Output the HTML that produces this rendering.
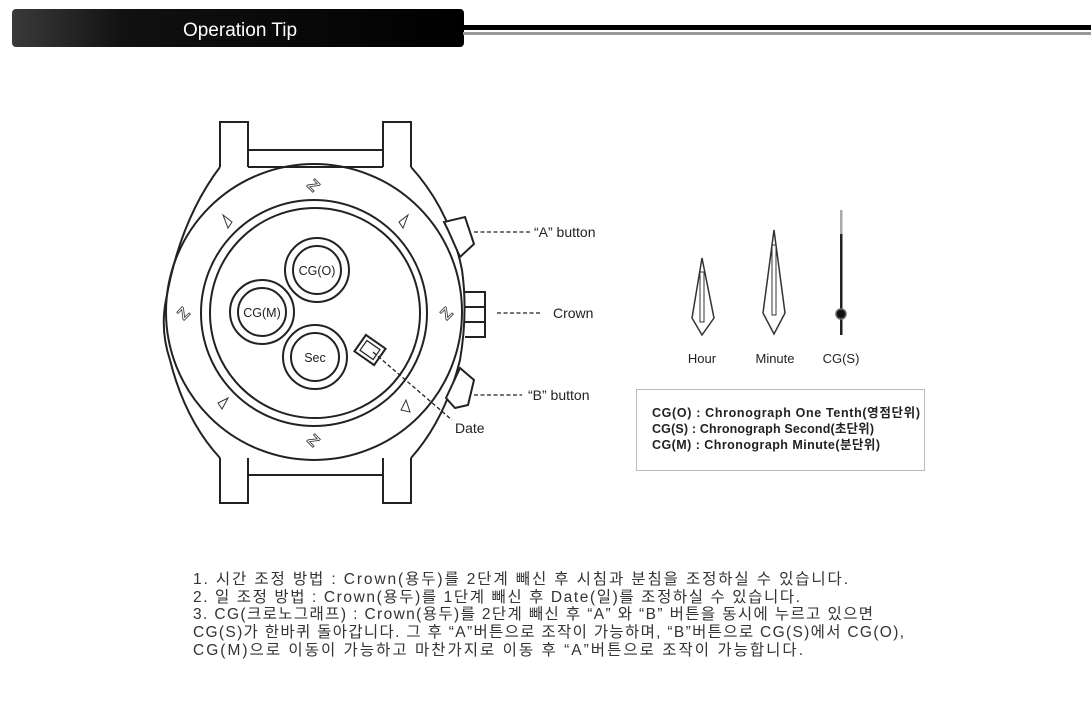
<!DOCTYPE html>
<html><head><meta charset="utf-8"><style>
html,body{margin:0;padding:0;background:#fff;width:1091px;height:703px;overflow:hidden}
svg{display:block}
text{font-family:"Liberation Sans","Noto Sans CJK KR",sans-serif}
</style></head><body>
<svg width="1091" height="703" viewBox="0 0 1091 703" xmlns="http://www.w3.org/2000/svg">
<defs><linearGradient id="hg" x1="0" x2="1"><stop offset="0" stop-color="#3a3a3a"/><stop offset="0.25" stop-color="#111"/><stop offset="1" stop-color="#000"/></linearGradient></defs>
<rect x="12" y="9" width="452" height="38" rx="4" fill="url(#hg)"/>
<text x="240" y="36" font-size="19" fill="#fff" text-anchor="middle">Operation Tip</text>
<rect x="463" y="25" width="628" height="5" fill="#000"/>
<rect x="463" y="32" width="628" height="3" fill="#999"/>

<g fill="none" stroke="#222" stroke-width="2">
<path d="M220,167 L220,122 L248,122 L248,167 M248,150 L383,150 M248,167 L383,167 M383,167 L383,122 L411,122 L411,167"/>
<path d="M220,458 L220,503 L248,503 L248,458 M248,475 L383,475 M383,458 L383,503 L411,503 L411,458"/>
<path d="M220,167 Q180,220 166,300 Q160,330 170,360 Q185,420 220,458 M411,167 Q450,210 462,270 Q468,313 460,360 Q445,420 411,458"/>
<circle cx="314" cy="312" r="148"/>
<circle cx="314" cy="313" r="113"/>
<circle cx="315" cy="313" r="105"/>
<circle cx="317" cy="270" r="32"/><circle cx="317" cy="270" r="24"/>
<circle cx="262" cy="312" r="32"/><circle cx="262" cy="312" r="24"/>
<circle cx="315" cy="357" r="32"/><circle cx="315" cy="357" r="24"/>
<g transform="translate(370,350) rotate(35)"><rect x="-12" y="-10" width="24" height="20"/><rect x="-8" y="-6" width="16" height="12" stroke-width="1.2"/></g>
<path d="M448,230 L444,222 L465,217 L474,244 L460,257 Z" fill="#fff"/>
<path d="M465,292 L485,292 L485,337 L465,337 M465,307 L485,307 M465,322 L485,322"/>
<path d="M446,398 L460,368 L474,380 L468,405 L455,408 Z" fill="#fff"/>
</g>
<g font-size="12.5" fill="#222" text-anchor="middle">
<text x="317" y="275">CG(O)</text>
<text x="262" y="317">CG(M)</text>
<text x="315" y="362">Sec</text>
</g>
<g font-size="16" fill="#fff" stroke="#333" stroke-width="0.8" font-weight="bold" text-anchor="middle">
<text x="314" y="191" transform="rotate(45 314 185)">Z</text>
<text x="314" y="446" transform="rotate(45 314 440)">Z</text>
<text x="183" y="319" transform="rotate(-45 183 313)">Z</text>
<text x="446" y="319" transform="rotate(-45 446 313)">Z</text>
</g>
<g fill="none" stroke="#333" stroke-width="1">
<path d="M223,215 L228,228 L232,222 Z"/>
<path d="M408,215 L403,228 L399,222 Z"/>
<path d="M218,403 L228,398 L222,409 Z"/>
<path d="M406,400 L410,412 L401,410 Z"/>
</g>
<g stroke="#222" stroke-width="1.3" stroke-dasharray="4,2.5" fill="none">
<line x1="474" y1="232" x2="530" y2="232"/>
<line x1="497" y1="313" x2="540" y2="313"/>
<line x1="474" y1="395" x2="522" y2="395"/>
<line x1="373" y1="352" x2="452" y2="420"/>
</g>
<g font-size="14" fill="#222">
<text x="534" y="237">“A” button</text>
<text x="553" y="318">Crown</text>
<text x="528" y="400">“B” button</text>
<text x="455" y="433">Date</text>
</g>
<g fill="none" stroke="#333" stroke-width="1.5">
<path d="M702,258 L714,318 L702,335 L692,318 Z"/>
<path d="M700,272 L704,272 L704,322 L700,322 Z" stroke-width="1"/>
<path d="M774,230 L785,313 L774,334 L763,313 Z"/>
<path d="M772,245 L776,245 L776,315 L772,315 Z" stroke-width="1"/>
</g>
<rect x="840" y="210" width="2.5" height="24" fill="#aaa"/>
<rect x="840" y="234" width="2.5" height="101" fill="#222"/>
<circle cx="841" cy="314" r="5" fill="#111" stroke="#666" stroke-width="1.5"/>
<g font-size="13" fill="#222" text-anchor="middle">
<text x="702" y="363">Hour</text><text x="775" y="363">Minute</text><text x="841" y="363">CG(S)</text>
</g>
<rect x="636.5" y="389.5" width="288" height="81" fill="none" stroke="#bbb"/>
<g font-size="12.5" font-weight="bold" fill="#222">
<text x="652" y="417" textLength="268">CG(O) : Chronograph One Tenth(영점단위)</text>
<text x="652" y="433" textLength="222">CG(S) : Chronograph Second(초단위)</text>
<text x="652" y="449" textLength="228">CG(M) : Chronograph Minute(분단위)</text>
</g>
<g font-size="15.5" fill="#333">
<text x="193" y="584" textLength="655">1. 시간 조정 방법 : Crown(용두)를 2단계 빼신 후 시침과 분침을 조정하실 수 있습니다.</text>
<text x="193" y="602" textLength="607">2. 일 조정 방법 : Crown(용두)를 1단계 빼신 후 Date(일)를 조정하실 수 있습니다.</text>
<text x="193" y="619" textLength="680">3. CG(크로노그래프) : Crown(용두)를 2단계 빼신 후 “A” 와  “B” 버튼을 동시에 누르고 있으면</text>
<text x="193" y="637" textLength="711">CG(S)가 한바퀴 돌아갑니다. 그 후 “A”버튼으로 조작이 가능하며, “B”버튼으로 CG(S)에서 CG(O),</text>
<text x="193" y="655" textLength="610">CG(M)으로 이동이 가능하고 마찬가지로 이동 후 “A”버튼으로 조작이 가능합니다.</text>
</g>
</svg>
</body></html>
